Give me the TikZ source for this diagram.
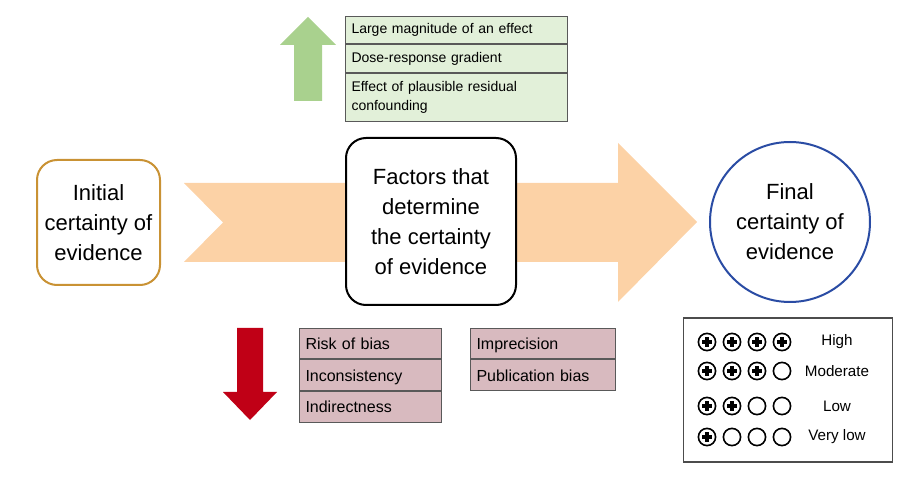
\documentclass[tikz,border=0pt]{standalone}
\usepackage{fontspec}
\setmainfont{Liberation Sans}
\usetikzlibrary{positioning}

\definecolor{peach}{RGB}{252,210,166}
\definecolor{initbrown}{RGB}{201,146,52}
\definecolor{finalblue}{RGB}{42,76,164}
\definecolor{upgreen}{RGB}{169,209,142}
\definecolor{greenrow}{RGB}{226,240,217}
\definecolor{downred}{RGB}{192,0,22}
\definecolor{pinkrow}{RGB}{216,186,191}

\tikzset{
  bigtext/.style={font=\fontsize{11}{15}\selectfont, align=center},
  smalltext/.style={font=\fontsize{7}{9.5}\selectfont},
  rowbox/.style={draw=black!65, line width=0.5pt, smalltext, align=left,
    inner xsep=3pt, inner ysep=1pt, anchor=north west},
  greenbox/.style={rowbox, fill=greenrow, text width=105pt, minimum height=13.75pt},
  pinkbox/.style={rowbox, fill=pinkrow, minimum height=15.25pt,
    font=\fontsize{8}{10}\selectfont, text height=1.55ex, text depth=0.45ex},
  pluscirc/.style={line width=0.8pt},
}

\begin{document}
\begin{tikzpicture}[x=0.5pt, y=-0.5pt]
\useasboundingbox (0,0) rectangle (912,481);

% main flow arrow
\fill[peach] (184,183) -- (618,183) -- (618,143) -- (697,222) -- (618,302)
  -- (618,262) -- (184,262) -- (223,222.5) -- cycle;

\node[draw=initbrown, line width=1pt, rounded corners=10pt, fill=white,
  minimum width=61.5pt, minimum height=62.5pt, bigtext] (init) at (98.5,222.5)
  {Initial\\certainty of\\evidence};
\node[draw=black, line width=1pt, rounded corners=10pt, fill=white,
  minimum width=85pt, minimum height=83.5pt, bigtext] (factors) at (431,221.5)
  {Factors that\\determine\\the certainty\\of evidence};
\node[draw=finalblue, line width=1pt, circle, fill=white,
  minimum size=80pt, bigtext] (final) at (790,222)
  {Final\\certainty of\\evidence};

% upgrading
\fill[upgreen] (294,101) -- (294,45) -- (280,45) -- (308,17) -- (336,45)
  -- (322,45) -- (322,101) -- cycle;
\node[greenbox] (up1) at (345,16) {Large magnitude of an effect};
\node[greenbox, below=0pt of up1.south west, anchor=north west] (up2) {Dose-response gradient};
\node[greenbox, below=0pt of up2.south west, anchor=north west, minimum height=24pt] (up3)
  {Effect of plausible residual\\confounding};

% downgrading
\fill[downred] (237,328) -- (263,328) -- (263,392) -- (277,392) -- (250,420)
  -- (223,392) -- (237,392) -- cycle;
\node[pinkbox, text width=65pt] (down1) at (299,328) {Risk of bias};
\node[pinkbox, text width=65pt, below=0pt of down1.south west, anchor=north west] (down2) {Inconsistency};
\node[pinkbox, text width=65pt, below=0pt of down2.south west, anchor=north west] (down3) {Indirectness};
\node[pinkbox, text width=66.5pt] (down4) at (470,328) {Imprecision};
\node[pinkbox, text width=66.5pt, below=0pt of down4.south west, anchor=north west] (down5) {Publication bias};

% certainty ratings
\node[draw=black!70, line width=0.6pt, minimum width=104.5pt, minimum height=72pt]
  (legend) at (788,390) {};
\foreach \y/\n/\lab in {342/4/High, 371/3/Moderate, 406/2/Low, 437/1/Very low}{
  \foreach \i in {1,...,4}{
    \draw[pluscirc] (682+25*\i,\y) circle[radius=4.3pt];
    \ifnum\i>\n\else
      \draw[line width=1.6pt] (677+25*\i,\y) -- (687+25*\i,\y);
      \draw[line width=1.6pt] (682+25*\i,\y-5) -- (682+25*\i,\y+5);
    \fi
  }
  \node[font=\fontsize{7.6}{9}\selectfont] (rate\n) at (837,\y) {\lab};
}
\end{tikzpicture}
\end{document}
